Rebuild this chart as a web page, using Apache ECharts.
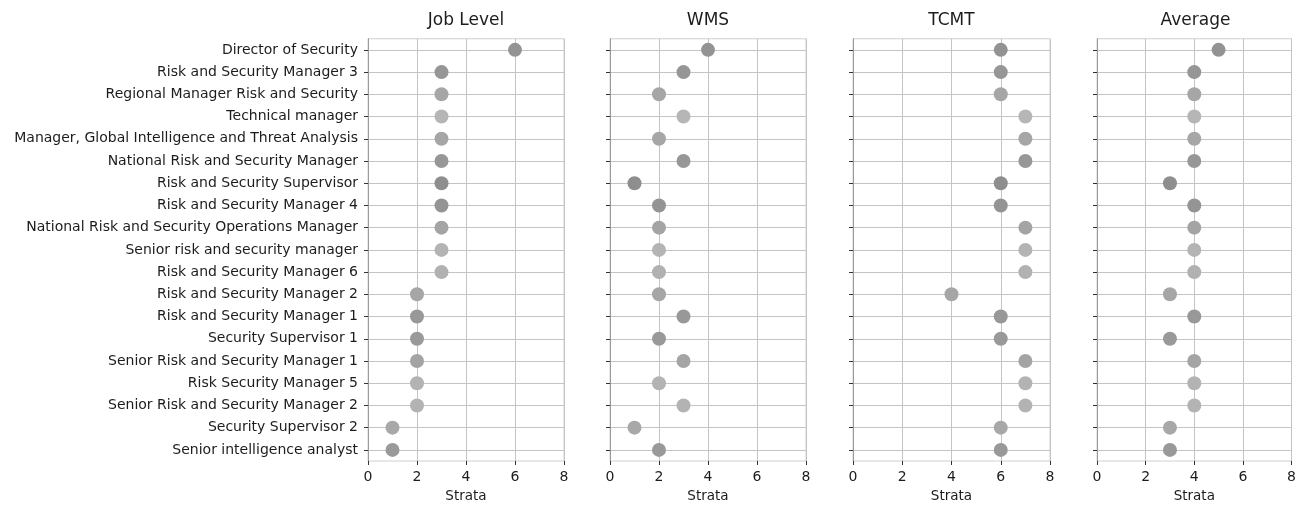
<!DOCTYPE html>
<html>
<head>
<meta charset="utf-8">
<script src="https://cdn.jsdelivr.net/npm/echarts@6/dist/echarts.min.js"></script>
<style>html,body{margin:0;padding:0;background:#fff}#c{width:1299px;height:508px}</style>
</head>
<body>
<div id="c"></div>
<script>
const categories = [
  "Director of Security",
  "Risk and Security Manager 3",
  "Regional Manager Risk and Security",
  "Technical manager",
  "Manager, Global Intelligence and Threat Analysis",
  "National Risk and Security Manager",
  "Risk and Security Supervisor",
  "Risk and Security Manager 4",
  "National Risk and Security Operations Manager",
  "Senior risk and security manager",
  "Risk and Security Manager 6",
  "Risk and Security Manager 2",
  "Risk and Security Manager 1",
  "Security Supervisor 1",
  "Senior Risk and Security Manager 1",
  "Risk Security Manager 5",
  "Senior Risk and Security Manager 2",
  "Security Supervisor 2",
  "Senior intelligence analyst"
];
const panelTitles = ["Job Level", "WMS", "TCMT", "Average"];
const jobLevel = [6,3,3,3,3,3,3,3,3,3,3,2,2,2,2,2,2,1,1];
const wms      = [4,3,2,3,2,3,1,2,2,2,2,2,3,2,3,2,3,1,2];
const tcmt     = [6,6,6,7,7,7,6,6,7,7,7,4,6,6,7,7,7,6,6];
const average  = [5,4,4,4,4,4,3,4,4,4,4,3,4,3,4,4,4,3,3];
const xTicks = [0,2,4,6,8];

const rowColors = ["#939393","#969696","#a6a6a6","#b6b6b6","#a6a6a6","#979797","#8e8e8e","#949494","#a4a4a4","#b4b4b4","#b1b1b1","#a6a6a6","#989898","#999999","#a4a4a4","#b3b3b3","#b3b3b3","#a8a8a8","#999999"];

const panels = [jobLevel, wms, tcmt, average];
const gLefts = [368, 610, 853, 1097];
const gWidths = [196, 196, 197, 197];
const gTop = 38.75, gHeight = 427.5;
const txt = '#1c1c1c';

const grid = [], xAxis = [], yAxis = [], series = [], title = [];
panels.forEach((vals, i) => {
  grid.push({left: gLefts[i], top: gTop, width: gWidths[i], height: gHeight, show: true,
    borderColor: '#d0d0d0', borderWidth: 1, backgroundColor: 'transparent'});
  xAxis.push({gridIndex: i, type: 'value', min: xTicks[0], max: xTicks[xTicks.length-1], interval: 2,
    axisLine: {show: false},
    axisTick: {show: true, length: 4, lineStyle: {color: '#333'}},
    axisLabel: {color: txt, fontSize: 14, fontFamily: 'DejaVu Sans', margin: 9},
    splitLine: {show: true, lineStyle: {color: '#c4c4c4', width: 1}},
    name: 'Strata', nameLocation: 'middle', nameGap: 28,
    nameTextStyle: {color: txt, fontSize: 13.5, fontFamily: 'DejaVu Sans'}
  });
  yAxis.push({gridIndex: i, type: 'category', data: categories, inverse: true, boundaryGap: true,
    axisLine: {show: true, lineStyle: {color: '#9a9a9a', width: 1}},
    axisTick: {show: true, alignWithLabel: true, length: 4, lineStyle: {color: '#333'}},
    axisLabel: {show: i === 0, color: txt, fontSize: 14, fontFamily: 'DejaVu Sans', margin: 10},
    splitLine: {show: true, alignWithLabel: true, lineStyle: {color: '#c4c4c4', width: 1}}
  });
  title.push({text: panelTitles[i], left: gLefts[i] + gWidths[i]/2, top: 12, textAlign: 'center', padding: 0,
    textStyle: {fontSize: 17, fontWeight: 'normal', color: txt, fontFamily: 'DejaVu Sans'}});
  series.push({type: 'scatter', xAxisIndex: i, yAxisIndex: i, symbolSize: 14,
    itemStyle: {opacity: 1},
    data: vals.map((v, k) => ({value: [v, categories[k]], itemStyle: {color: rowColors[k], opacity: 1}})),
    z: 5
  });
});

const chart = echarts.init(document.getElementById('c'), null, {renderer: 'canvas'});
chart.setOption({animation: false, backgroundColor: '#fff', title, grid, xAxis, yAxis, series});
</script>
</body>
</html>
